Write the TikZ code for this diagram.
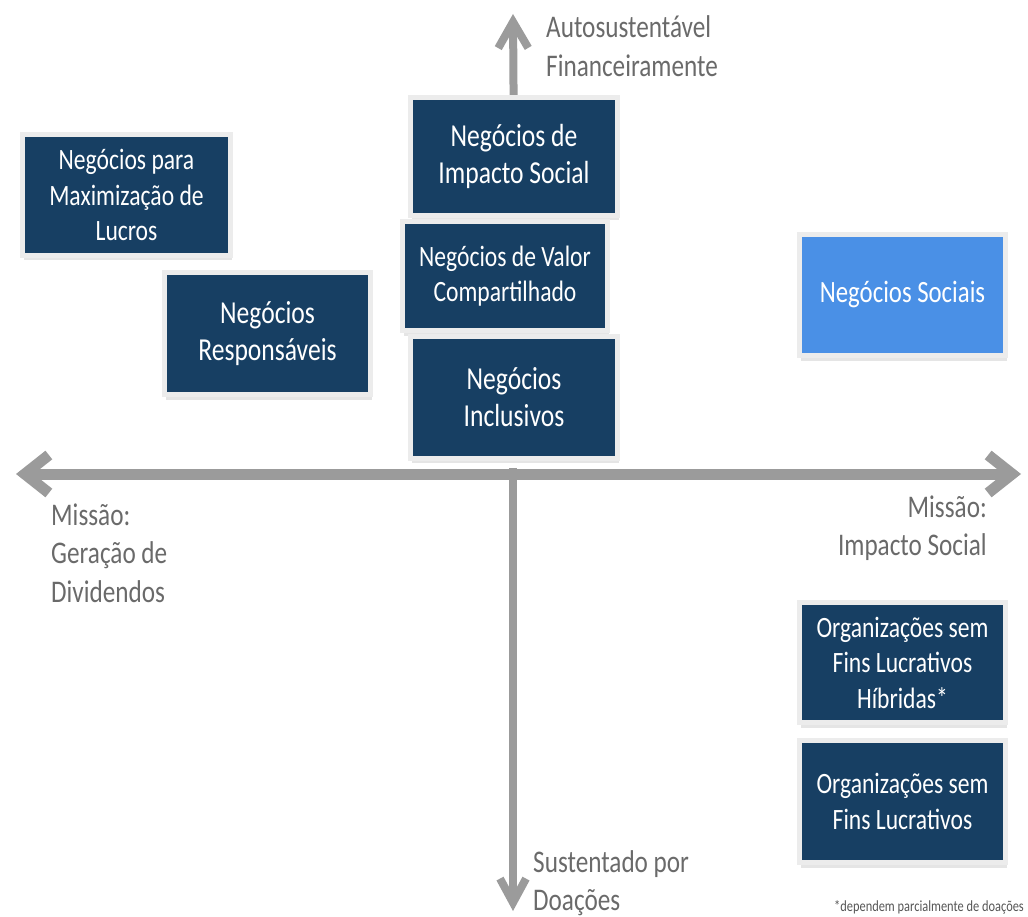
\documentclass[tikz,border=0pt]{standalone}
\usepackage{fontspec}
\setmainfont{Carlito}[FakeStretch=0.8]
\usetikzlibrary{arrows.meta,shadows,backgrounds}
\definecolor{navy}{HTML}{173F63}
\definecolor{skyblue}{HTML}{4A90E6}
\definecolor{framegray}{HTML}{ECECEC}
\definecolor{axisgray}{HTML}{9B9B9B}
\definecolor{labgray}{HTML}{6A6A6A}
\tikzset{
  box/.style={draw=framegray, line width=5pt, fill=navy, text=white, inner sep=0pt,
    align=center, font=\fontsize{32}{37.5}\selectfont,
    drop shadow={shadow xshift=1pt, shadow yshift=-5pt, fill=black!20}},
  smallbox/.style={box, font=\fontsize{29.5}{35.5}\selectfont},
  lightbox/.style={box, fill=skyblue},
  lab/.style={text=labgray, inner sep=0pt, font=\fontsize{31.5}{38.5}\selectfont},
  axis/.style={draw=axisgray, line width=#1},
}
\begin{document}
\begin{tikzpicture}[x=1pt, y=-1pt]
\useasboundingbox (0,0) rectangle (1028,917);
% boxes
\node[box, minimum width=207pt, minimum height=118pt] (impacto) at (514,156.5) {Negócios de\\Impacto Social};
\node[smallbox, minimum width=208pt, minimum height=121pt] (lucros) at (126.5,195) {Negócios para\\Maximização de\\Lucros};
\node[box, minimum width=206pt, minimum height=122pt] (resp) at (267.5,333.5) {Negócios\\Responsáveis};
\node[smallbox, minimum width=205pt, minimum height=109pt] (valor) at (505,276) {Negócios de Valor\\Compartilhado};
\node[box, minimum width=207pt, minimum height=122pt] (inclus) at (514,397) {Negócios\\Inclusivos};
\node[lightbox, font=\fontsize{31}{36}\selectfont, minimum width=206pt, minimum height=121pt] (sociais) at (902.5,295) {Negócios Sociais};
\node[smallbox, minimum width=206pt, minimum height=120pt] (hibr) at (902.5,662.5) {Organizações sem\\Fins Lucrativos\\Híbridas*};
\node[smallbox, minimum width=206pt, minimum height=122pt] (osfl) at (902.5,801.5) {Organizações sem\\Fins Lucrativos};
% axes
\coordinate (W) at (16,474);
\coordinate (E) at (1021,474);
\coordinate (N) at (513,14);
\coordinate (S) at (513,911);
\coordinate (O) at (513,468);
\begin{scope}[on background layer]
\draw[axis=8pt, -{Straight Barb[length=26pt, width=30pt]}] (impacto.center) -- (N);
\draw[axis=8pt, -{Straight Barb[length=24pt, width=26pt]}] (O) -- (S);
\draw[axis=11pt, {Straight Barb[length=24pt, width=38pt]}-{Straight Barb[length=24pt, width=38pt]}] (W) -- (E);
\end{scope}
% labels
\node[lab, anchor=west, align=left] (top) at (546,46) {Autosustentável\\Financeiramente};
\node[lab, anchor=west, align=left] (left) at (51,553) {Missão:\\Geração de\\Dividendos};
\node[lab, anchor=east, align=right] (right) at (987,528) {Missão:\\Impacto Social};
\node[lab, anchor=west, align=left] (bottom) at (533,883) {Sustentado por\\Doações};
\node[text=labgray!80!black, inner sep=0pt, anchor=east, font=\fontsize{15.5}{17}\selectfont] (foot) at (1024,907) {*dependem parcialmente de doações};
\end{tikzpicture}
\end{document}
